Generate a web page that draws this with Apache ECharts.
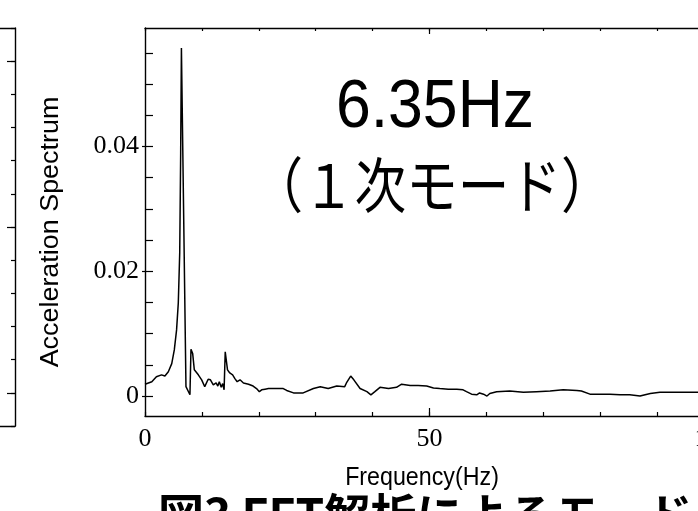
<!DOCTYPE html>
<html>
<head>
<meta charset="utf-8">
<script src="https://cdn.jsdelivr.net/npm/echarts@6/dist/echarts.min.js"></script>
<style>
html,body{margin:0;padding:0;background:#fff;}
#c{width:698px;height:511px;}
</style>
</head>
<body>
<div id="c"></div>
<script>
// ---- data ----
var freqHz = [0, 0.3, 1.2, 2.0, 2.9, 3.5, 4.1, 4.7, 5.15, 5.55, 5.85, 6.1, 6.27, 6.4, 7.2, 7.5, 7.9, 8.08, 8.38, 8.67,
  9.37, 9.96, 10.5, 11.1, 11.5, 12.0, 12.5, 12.8, 13.06, 13.4, 13.65, 13.9, 14.1, 14.35, 14.5, 14.9, 15.4, 15.8, 16.2, 16.7,
  17.3, 18.2, 19.0, 19.6, 20.1, 20.5, 21.1, 21.7, 22.5, 24.3, 24.9, 26.1, 27.8, 29.6, 30.8, 32.2, 33.7, 35.1, 35.4, 36.15,
  36.7, 37.8, 39.0, 39.7, 40.4, 41.3, 41.6, 42.8, 44.2, 45.1, 46.6, 48.0, 49.5, 50.7, 51.8, 53.3, 54.8, 55.9, 56.5, 57.4,
  58.3, 58.8, 59.5, 60.1, 60.6, 61.8, 64.1, 66.5, 68.8, 71.2, 73.5, 75.9, 76.7, 78.2, 80.0, 81.7, 83.5, 85.2, 87.0, 88.8,
  90.5, 92.3, 94.0, 95.8, 97.2, 100];
var accel = [0.0019, 0.0020, 0.0023, 0.0031, 0.0034, 0.0032, 0.0039, 0.0052, 0.0074, 0.0106, 0.0149, 0.0229, 0.0390, 0.0558, 0.0015, 0.0012, 0.0002, 0.0075, 0.0068, 0.0042,
  0.0034, 0.0026, 0.0015, 0.0027, 0.0026, 0.0018, 0.0021, 0.0016, 0.0023, 0.0014, 0.0020, 0.0010, 0.0071, 0.0071, 0.0042, 0.0037, 0.0034, 0.0028, 0.0023, 0.0026,
  0.0021, 0.0019, 0.0016, 0.0012, 0.0007, 0.0010, 0.0011, 0.0012, 0.0012, 0.0012, 0.0009, 0.0005, 0.0005, 0.0012, 0.0015, 0.0012, 0.0016, 0.0015, 0.0021, 0.0032,
  0.0026, 0.0012, 0.0007, 0.0002, 0.0007, 0.0014, 0.0011, 0.0012, 0.0014, 0.0019, 0.0017, 0.0017, 0.0016, 0.0013, 0.0012, 0.0011, 0.0011, 0.0010, 0.0007, 0.0003,
  0.0002, 0.0005, 0.0003, 0.0000, 0.0004, 0.0007, 0.0008, 0.0006, 0.0007, 0.0008, 0.0010, 0.0009, 0.0008, 0.0003, 0.0003, 0.0003, 0.0002, 0.0002, 0.0000, 0.0004,
  0.0006, 0.0006, 0.0006, 0.0006, 0.0006, 0.0006];
var xTickLabels = [0, 50, 100];
var yTickValues = [0, 0.005, 0.01, 0.015, 0.02, 0.025, 0.03, 0.035, 0.04, 0.045, 0.05, 0.055];
var yTickLabels = [0, 0.02, 0.04];
var leftPanelMajor = [0, 0.005, 0.01];
var yAxisTitle = 'Acceleration Spectrum';
var xAxisTitle = 'Frequency(Hz)';
var noteLine1 = '6.35Hz';
var noteLine2 = '（１次モード）';
var caption = '図3 FFT解析によるモード';

var seriesData = freqHz.map(function (f, i) { return [f, accel[i]]; });

var black = '#000';
var serif = '"Liberation Serif", "DejaVu Serif", serif';
var sans = '"Liberation Sans", Arial, sans-serif';
var cjk = '"Noto Sans CJK JP", "Noto Sans", sans-serif';

var chart = echarts.init(document.getElementById('c'), null, {renderer: 'canvas'});
chart.setOption({
  animation: false,
  backgroundColor: '#fff',
  grid: [
    {left: 145, top: 28, width: 569, height: 388, containLabel: false, outerBoundsMode: 'none'},
    {left: -400, top: 28, width: 415, height: 398, containLabel: false, outerBoundsMode: 'none'}
  ],
  xAxis: [
    {gridIndex: 0, type: 'value', position: 'bottom', min: 0, max: 100, interval: 10,
      axisLine: {show: true, onZero: false, lineStyle: {color: black, width: 1.4}},
      axisTick: {show: true, inside: true, length: 4, lineStyle: {color: black, width: 1.2}},
      axisLabel: {show: true, customValues: xTickLabels, margin: 10, color: black, fontFamily: serif, fontSize: 26},
      splitLine: {show: false}},
    {gridIndex: 0, type: 'value', position: 'bottom', min: 0, max: 100,
      axisLine: {show: false, onZero: false},
      axisTick: {show: true, inside: true, length: 8, customValues: [50], lineStyle: {color: black, width: 1.2}},
      axisLabel: {show: false}, splitLine: {show: false}},
    {gridIndex: 0, type: 'value', position: 'top', min: 0, max: 100, interval: 10,
      axisLine: {show: true, onZero: false, lineStyle: {color: black, width: 1.4}},
      axisTick: {show: true, inside: true, length: 3, lineStyle: {color: black, width: 1.2}},
      axisLabel: {show: false}, splitLine: {show: false}},
    {gridIndex: 0, type: 'value', position: 'top', min: 0, max: 100,
      axisLine: {show: false, onZero: false},
      axisTick: {show: true, inside: true, length: 6, customValues: [50], lineStyle: {color: black, width: 1.2}},
      axisLabel: {show: false}, splitLine: {show: false}},
    {gridIndex: 1, type: 'value', position: 'bottom', min: 0, max: 1,
      axisLine: {show: true, onZero: false, lineStyle: {color: black, width: 1.4}},
      axisTick: {show: false}, axisLabel: {show: false}, splitLine: {show: false}},
    {gridIndex: 1, type: 'value', position: 'top', min: 0, max: 1,
      axisLine: {show: true, onZero: false, lineStyle: {color: black, width: 1.4}},
      axisTick: {show: false}, axisLabel: {show: false}, splitLine: {show: false}}
  ],
  yAxis: [
    {gridIndex: 0, type: 'value', position: 'left', min: -0.0032, max: 0.059,
      axisLine: {show: true, onZero: false, lineStyle: {color: black, width: 1.4}},
      axisTick: {show: true, inside: true, length: 8, customValues: yTickValues, lineStyle: {color: black, width: 1.2}},
      axisLabel: {show: true, customValues: yTickLabels, margin: 6, color: black, fontFamily: serif, fontSize: 26,
        formatter: function (v) { return v === 0 ? '0' : v.toFixed(2); }},
      splitLine: {show: false}},
    {gridIndex: 0, type: 'value', position: 'left', min: -0.0032, max: 0.059,
      axisLine: {show: false, onZero: false},
      axisTick: {show: true, inside: false, length: 3, customValues: yTickLabels, lineStyle: {color: black, width: 1.2}},
      axisLabel: {show: false}, splitLine: {show: false}},
    {gridIndex: 1, type: 'value', position: 'right', min: -0.001, max: 0.011, interval: 0.001,
      axisLine: {show: true, onZero: false, lineStyle: {color: black, width: 1.4}},
      axisTick: {show: true, inside: true, length: 4, lineStyle: {color: black, width: 1.2}},
      axisLabel: {show: false}, splitLine: {show: false}},
    {gridIndex: 1, type: 'value', position: 'right', min: -0.001, max: 0.011,
      axisLine: {show: false, onZero: false},
      axisTick: {show: true, inside: true, length: 8, customValues: leftPanelMajor, lineStyle: {color: black, width: 1.2}},
      axisLabel: {show: false}, splitLine: {show: false}}
  ],
  series: [{
    type: 'line', xAxisIndex: 0, yAxisIndex: 0, data: seriesData,
    showSymbol: false, symbol: 'none', clip: true,
    lineStyle: {color: black, width: 1.5}
  }],
  graphic: [
    {type: 'text', x: 51, y: 232, rotation: Math.PI / 2, scaleX: 1.035,
      style: {text: yAxisTitle, fill: black, font: '26px ' + sans, textAlign: 'center', textVerticalAlign: 'middle'}},
    {type: 'text', x: 422, y: 478, scaleX: 0.93,
      style: {text: xAxisTitle, fill: black, font: '25px ' + sans, textAlign: 'center', textVerticalAlign: 'middle'}},
    {type: 'text', x: 435, y: 108, scaleX: 0.92,
      style: {text: noteLine1, fill: black, font: '68px ' + sans, textAlign: 'center', textVerticalAlign: 'middle'}},
    {type: 'text', x: 432, y: 185, scaleX: 0.86,
      style: {text: noteLine2, fill: black, font: '60px ' + cjk, textAlign: 'center', textVerticalAlign: 'middle'}},
    {type: 'text', x: 158, y: 492,
      style: {text: caption, fill: black, font: 'bold 46px ' + cjk, textAlign: 'left', textVerticalAlign: 'top'}}
  ]
});
</script>
</body>
</html>
